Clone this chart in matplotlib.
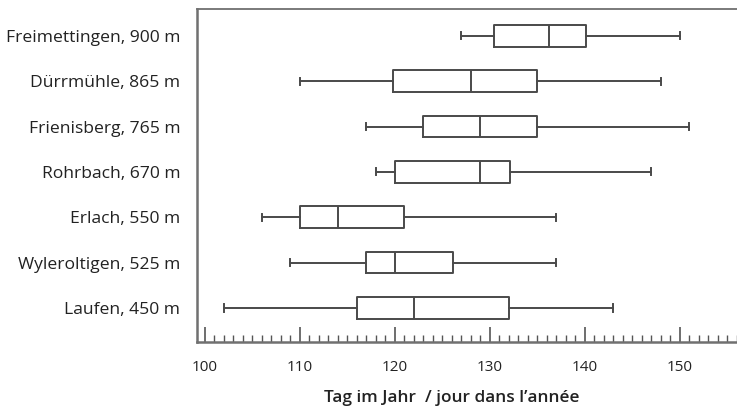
import matplotlib
matplotlib.use("Agg")
from matplotlib import pyplot as plt
from matplotlib.ticker import MultipleLocator

# stations, von unten nach oben
stations = ["Laufen, 450 m", "Wyleroltigen, 525 m", "Erlach, 550 m", "Rohrbach, 670 m",
            "Frienisberg, 765 m", "Dürrmühle, 865 m", "Freimettingen, 900 m"]
whislo = [102, 109, 106, 118, 117, 110, 127]
q1 = [116, 117, 110, 120, 123, 119.8, 130.4]
med = [122, 120, 114, 129, 129, 128, 136.2]
q3 = [132, 126.1, 121, 132.1, 135, 135, 140.1]
whishi = [143, 137, 137, 147, 151, 148, 150]

plt.rcParams['font.family'] = ['Open Sans', 'DejaVu Sans']

fig = plt.figure(figsize=(7.37, 4.07), dpi=100)
ax = fig.add_axes([197/737, 65/407, 540/737, 333/407])

stats = []
for i in range(len(stations)):
    stats.append({"label": stations[i], "whislo": whislo[i], "q1": q1[i], "med": med[i],
                  "q3": q3[i], "whishi": whishi[i], "fliers": []})

edge = "#4a4a4a"
ax.bxp(stats, positions=range(len(stations)), orientation='horizontal', widths=0.48,
       capwidths=0.16, showfliers=False,
       boxprops=dict(color=edge, linewidth=1.4),
       medianprops=dict(color=edge, linewidth=1.4),
       whiskerprops=dict(color=edge, linewidth=1.4),
       capprops=dict(color=edge, linewidth=1.4))

ax.set_xlim(99.2, 156)
ax.set_ylim(-0.75, 6.59)

ax.spines['right'].set_visible(False)
for s in ['left', 'bottom', 'top']:
    ax.spines[s].set_color("#707070")
ax.spines['left'].set_linewidth(1.8)
ax.spines['bottom'].set_linewidth(1.8)
ax.spines['top'].set_linewidth(1.3)

ax.xaxis.set_major_locator(MultipleLocator(10))
ax.xaxis.set_minor_locator(MultipleLocator(1))
ax.tick_params(axis='x', which='major', direction='in', length=10.5, width=1.2, color="#555555",
               pad=13, labelsize=11, labelcolor="#222222")
ax.tick_params(axis='x', which='minor', direction='in', length=5, width=1.0, color="#555555")
ax.tick_params(axis='y', length=0, pad=12, labelsize=12.6, labelcolor="#222222")

ax.set_xlabel("Tag im Jahr  / jour dans l’année", fontsize=12.4, fontweight='semibold',
              color="#222222")
ax.xaxis.set_label_coords(0.472, -0.145)

fig.savefig("out.png", dpi=100)
